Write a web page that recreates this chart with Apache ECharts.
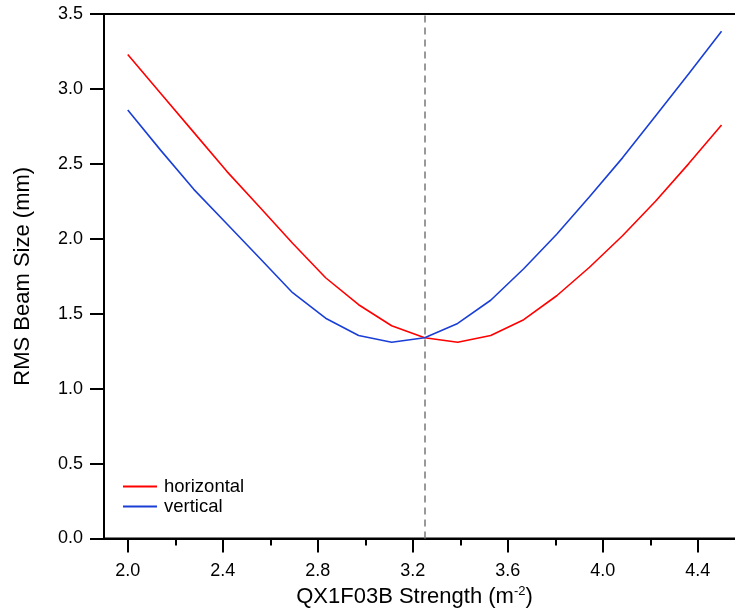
<!DOCTYPE html>
<html>
<head>
<meta charset="utf-8">
<script src="https://cdn.jsdelivr.net/npm/echarts@6/dist/echarts.min.js"></script>
<style>
html,body{margin:0;padding:0;background:#fff;}
#chart{width:735px;height:611px;}
</style>
</head>
<body>
<div id="chart"></div>
<script>
const strength = [2.0, 2.139, 2.278, 2.417, 2.556, 2.694, 2.833, 2.972, 3.111, 3.25, 3.389, 3.528, 3.667, 3.806, 3.944, 4.083, 4.222, 4.361, 4.5];
const horizontal = [3.23, 2.97, 2.71, 2.45, 2.21, 1.97, 1.74, 1.56, 1.42, 1.34, 1.31, 1.355, 1.46, 1.62, 1.81, 2.02, 2.25, 2.50, 2.76];
const vertical = [2.86, 2.59, 2.33, 2.10, 1.87, 1.64, 1.47, 1.355, 1.31, 1.34, 1.435, 1.59, 1.80, 2.03, 2.28, 2.54, 2.82, 3.10, 3.385];
const xMajorTicks = [2.0, 2.4, 2.8, 3.2, 3.6, 4.0, 4.4];
const xMinorTicks = [2.2, 2.6, 3.0, 3.4, 3.8, 4.2];
const markerX = 3.25;
const seriesNames = ['horizontal', 'vertical'];

const FONT = 'Liberation Sans, Arial, sans-serif';
const chart = echarts.init(document.getElementById('chart'), null, {renderer: 'canvas'});
const pair = (xs, ys) => xs.map((x, i) => [x, ys[i]]);

chart.setOption({
  animation: false,
  backgroundColor: '#fff',
  textStyle: {fontFamily: FONT},
  grid: {left: 104, top: 14, right: -2, bottom: 72.5, outerBoundsMode: 'none', containLabel: false,
    show: true, borderColor: '#000', borderWidth: 2, backgroundColor: 'transparent'},
  legend: {
    orient: 'vertical', left: 118, top: 472, itemWidth: 34, itemHeight: 2, itemGap: 1, icon: 'rect',
    textStyle: {fontFamily: FONT, fontSize: 18.5, color: '#000', padding: [0, 0, 0, 2]},
    data: seriesNames
  },
  xAxis: [{
    type: 'value', position: 'bottom', min: 1.9, max: 4.565,
    axisLine: {show: true, onZero: false, lineStyle: {color: '#000', width: 2}},
    axisTick: {show: true, inside: false, length: 14, customValues: xMajorTicks, lineStyle: {color: '#000', width: 2}},
    axisLabel: {show: true, customValues: xMajorTicks, margin: 24, fontFamily: FONT, fontSize: 18, color: '#000', formatter: v => v.toFixed(1)},
    splitLine: {show: false},
    name: 'QX1F03B Strength (m{sup|-2})', nameLocation: 'middle', nameGap: 45,
    nameTextStyle: {fontFamily: FONT, fontSize: 22, color: '#000', lineHeight: 24, padding: [0, 12, 0, 0],
      rich: {sup: {fontFamily: FONT, fontSize: 13, color: '#000', verticalAlign: 'top', lineHeight: 13}}}
  }, {
    type: 'value', position: 'bottom', min: 1.9, max: 4.565,
    axisLine: {show: false, onZero: false},
    axisTick: {show: true, inside: false, length: 7, customValues: xMinorTicks, lineStyle: {color: '#000', width: 2}},
    axisLabel: {show: false},
    splitLine: {show: false}
  }],
  yAxis: {
    type: 'value', min: 0, max: 3.5, interval: 0.5,
    axisLine: {show: true, onZero: false, lineStyle: {color: '#000', width: 2}},
    axisTick: {show: true, inside: false, length: 14, lineStyle: {color: '#000', width: 2}},
    axisLabel: {margin: 21, fontFamily: FONT, fontSize: 18, color: '#000', formatter: v => v.toFixed(1)},
    splitLine: {show: false},
    name: 'RMS Beam Size (mm)', nameLocation: 'middle', nameGap: 70,
    nameTextStyle: {fontFamily: FONT, fontSize: 22, color: '#000'}
  },
  series: [{
    name: seriesNames[0], type: 'line', data: pair(strength, horizontal), showSymbol: false, symbol: 'none',
    lineStyle: {color: '#ff0000', width: 1.6}, itemStyle: {color: '#ff0000'},
    markLine: {
      silent: true, symbol: 'none', label: {show: false},
      lineStyle: {color: '#808080', width: 1.6, type: [7, 5]},
      data: [{xAxis: markerX}]
    }
  }, {
    name: seriesNames[1], type: 'line', data: pair(strength, vertical), showSymbol: false, symbol: 'none',
    lineStyle: {color: '#1a3fd6', width: 1.6}, itemStyle: {color: '#1a3fd6'}
  }]
});
</script>
</body>
</html>
